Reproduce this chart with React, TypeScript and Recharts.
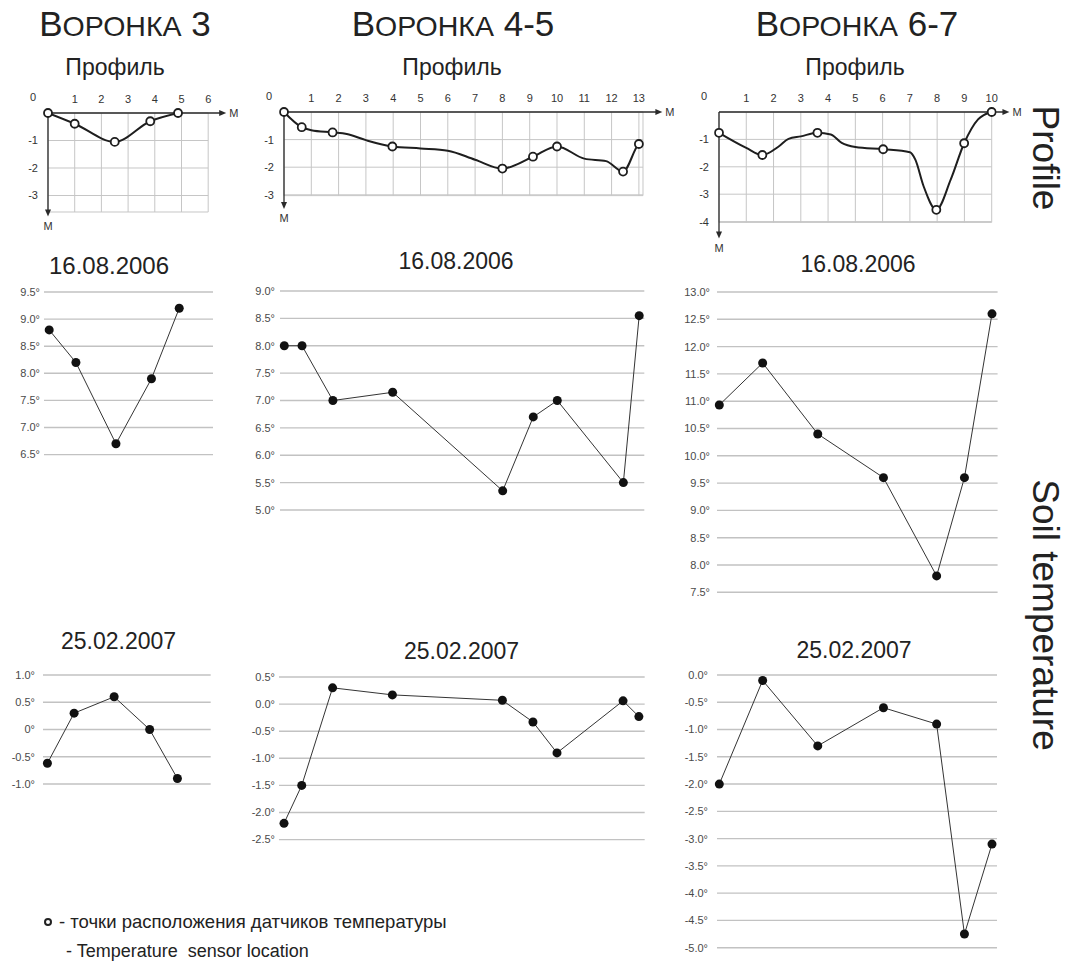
import React from 'react';
import { ComposedChart, LineChart, Line, XAxis, YAxis, CartesianGrid, ReferenceLine } from 'recharts';

const FONT = '"Liberation Sans", Arial, Helvetica, sans-serif';

// ---------- Воронка 3 ----------
const f3SensorDist = [0, 1.0, 2.5, 3.83, 4.87];
const f3SensorDepth = [0, -0.39, -1.05, -0.3, 0];
const f3SurfDist = [0, 1.0, 2.5, 3.83, 4.87];
const f3SurfDepth = [0, -0.39, -1.05, -0.3, 0];
const f3TempSummer = [8.8, 8.2, 6.7, 7.9, 9.2];
const f3TempWinter = [-0.62, 0.3, 0.6, 0.0, -0.9];

// ---------- Воронка 4-5 ----------
const f45SensorDist = [0, 0.65, 1.78, 3.97, 8.0, 9.12, 10.0, 12.42, 13.0];
const f45SensorDepth = [0, -0.55, -0.74, -1.25, -2.05, -1.62, -1.25, -2.16, -1.16];
const f45SurfDist = [0, 0.65, 1.0, 1.78, 2.3, 3.0, 3.97, 5.0, 6.0, 7.0, 8.0, 9.12, 10.0, 11.0, 11.8, 12.42, 13.0, 13.15];
const f45SurfDepth = [0, -0.55, -0.66, -0.74, -0.8, -1.02, -1.25, -1.32, -1.4, -1.73, -2.05, -1.62, -1.25, -1.69, -1.78, -2.16, -1.16, -1.08];
const f45TempSummer = [8.0, 8.0, 7.0, 7.15, 5.35, 6.7, 7.0, 5.5, 8.55];
const f45TempWinter = [-2.2, -1.5, 0.3, 0.17, 0.07, -0.33, -0.9, 0.06, -0.23];

// ---------- Воронка 6-7 ----------
const f67SensorDist = [0, 1.59, 3.61, 6.02, 7.97, 8.99, 10];
const f67SensorDepth = [-0.76, -1.57, -0.76, -1.36, -3.57, -1.14, 0];
const f67SurfDist = [0, 1.0, 1.59, 2.2, 2.55, 3.0, 3.61, 4.1, 4.5, 5.0, 6.02, 7.0, 7.2, 7.5, 7.97, 8.5, 8.99, 9.5, 10];
const f67SurfDepth = [-0.76, -1.31, -1.57, -1.25, -0.98, -0.89, -0.76, -0.82, -1.13, -1.28, -1.36, -1.47, -1.74, -2.7, -3.57, -2.46, -1.14, -0.27, 0];
const f67TempSummer = [10.93, 11.7, 10.4, 9.6, 7.8, 9.6, 12.6];
const f67TempWinter = [-2.0, -0.1, -1.3, -0.6, -0.9, -4.75, -3.1];

// ---------- Profile axis ticks ----------
const p3XTicks = [0, 1, 2, 3, 4, 5, 6];
const p3YTicks = [-1, -2, -3];
const p45XTicks = [0, 1, 2, 3, 4, 5, 6, 7, 8, 9, 10, 11, 12, 13];
const p45YTicks = [-1, -2, -3];
const p67XTicks = [0, 1, 2, 3, 4, 5, 6, 7, 8, 9, 10];
const p67YTicks = [-1, -2, -3, -4];

// ---------- Temperature axis ticks ----------
const t3SummerTicks = [6.5, 7, 7.5, 8, 8.5, 9, 9.5];
const t3SummerLabels = ['6.5°', '7.0°', '7.5°', '8.0°', '8.5°', '9.0°', '9.5°'];
const t45SummerTicks = [5, 5.5, 6, 6.5, 7, 7.5, 8, 8.5, 9];
const t45SummerLabels = ['5.0°', '5.5°', '6.0°', '6.5°', '7.0°', '7.5°', '8.0°', '8.5°', '9.0°'];
const t67SummerTicks = [7.5, 8, 8.5, 9, 9.5, 10, 10.5, 11, 11.5, 12, 12.5, 13];
const t67SummerLabels = ['7.5°', '8.0°', '8.5°', '9.0°', '9.5°', '10.0°', '10.5°', '11.0°', '11.5°', '12.0°', '12.5°', '13.0°'];
const t3WinterTicks = [-1, -0.5, 0, 0.5, 1];
const t3WinterLabels = ['-1.0°', '-0.5°', '0°', '0.5°', '1.0°'];
const t45WinterTicks = [-2.5, -2, -1.5, -1, -0.5, 0, 0.5];
const t45WinterLabels = ['-2.5°', '-2.0°', '-1.5°', '-1.0°', '-0.5°', '0.0°', '0.5°'];
const t67WinterTicks = [-5, -4.5, -4, -3.5, -3, -2.5, -2, -1.5, -1, -0.5, 0];
const t67WinterLabels = ['-5.0°', '-4.5°', '-4.0°', '-3.5°', '-3.0°', '-2.5°', '-2.0°', '-1.5°', '-1.0°', '-0.5°', '0.0°'];

const INK = '#1e1e1e';

const ProfXTick = (props: any) => {
  const { x, y, payload } = props;
  const v = payload.value;
  return (
    <text x={v === 0 ? x - 15 : x} y={v === 0 ? y - 2 : y} textAnchor="middle" fontSize={11} fill="#333" fontFamily={FONT}>
      {v}
    </text>
  );
};

const hArrow = (p: any) => (
  <g>
    <line x1={p.x1} y1={p.y1} x2={p.x2} y2={p.y2} stroke="#2a2a2a" strokeWidth={1.3} />
    <polygon points={`${p.x2 + 6},${p.y2} ${p.x2 - 1},${p.y2 - 3} ${p.x2 - 1},${p.y2 + 3}`} fill="#2a2a2a" />
    <text x={p.x2 + 9} y={p.y2 + 4} fontSize={11} fill="#333" fontFamily={FONT}>М</text>
  </g>
);

const vArrow = (p: any) => (
  <g>
    <line x1={p.x1} y1={p.y1} x2={p.x2} y2={p.y2} stroke="#2a2a2a" strokeWidth={1.3} />
    <polygon points={`${p.x2},${p.y2 + 6} ${p.x2 - 3},${p.y2 - 1} ${p.x2 + 3},${p.y2 - 1}`} fill="#2a2a2a" />
    <text x={p.x2} y={p.y2 + 19} textAnchor="middle" fontSize={11} fill="#333" fontFamily={FONT}>М</text>
  </g>
);

type ProfileCfg = { originX: number; originY: number; pxX: number; pxY: number; xMax: number; yMin: number; arrowX: number; arrowY: number };

function ProfileChart(props: { cfg: ProfileCfg; surfX: number[]; surfD: number[]; sensX: number[]; sensD: number[]; xTicks: number[]; yTicks: number[] }) {
  const { cfg, surfX, surfD, sensX, sensD, xTicks, yTicks } = props;
  const yW = 40, xH = 20, mt = 4, mr = 40, mb = 40;
  const plotW = cfg.xMax * cfg.pxX;
  const plotH = -cfg.yMin * cfg.pxY;
  const width = yW + plotW + mr;
  const height = mt + xH + plotH + mb;
  const surface = surfX.map((x, i) => ({ x, d: surfD[i] }));
  const sensors = sensX.map((x, i) => ({ x, d: sensD[i] }));
  return (
    <div style={{ position: 'absolute', left: cfg.originX - yW, top: cfg.originY - xH - mt }}>
      <ComposedChart width={width} height={height} margin={{ top: mt, right: mr, bottom: mb, left: 0 }}>
        <CartesianGrid stroke="#c6c6c6" strokeWidth={1} />
        <XAxis type="number" dataKey="x" orientation="top" domain={[0, cfg.xMax]} ticks={xTicks} interval={0} height={xH}
          axisLine={false} tickLine={false} tickSize={0} tickMargin={10} tick={(tp: any) => <ProfXTick {...tp} />} allowDataOverflow />
        <YAxis type="number" dataKey="d" domain={[cfg.yMin, 0]} ticks={yTicks} interval={0} width={yW}
          axisLine={false} tickLine={false} tickSize={0} tickMargin={10} tick={{ fontSize: 11, fill: '#333', fontFamily: FONT }} allowDataOverflow />
        <ReferenceLine segment={[{ x: 0, y: 0 }, { x: cfg.arrowX, y: 0 }]} ifOverflow="visible" shape={hArrow} />
        <ReferenceLine segment={[{ x: 0, y: 0 }, { x: 0, y: cfg.arrowY }]} ifOverflow="visible" shape={vArrow} />
        <Line data={surface} dataKey="d" type="monotone" stroke={INK} strokeWidth={2} dot={false} isAnimationActive={false} />
        <Line data={sensors} dataKey="d" type="linear" stroke="none" dot={{ r: 4, fill: '#fff', stroke: INK, strokeWidth: 1.8, clipDot: false } as any} isAnimationActive={false} />
      </ComposedChart>
    </div>
  );
}

type TempCfg = { left: number; right: number; top: number; bottom: number; originX: number; pxPerM: number; yDomain: [number, number]; gap: number };

function TempChart(props: { cfg: TempCfg; xs: number[]; temps: number[]; ticks: number[]; labels: string[] }) {
  const { cfg, xs, temps, ticks, labels } = props;
  const yW = 50, mt = 10, mb = 10, mr = 12;
  const width = cfg.right - cfg.left + yW + mr;
  const height = cfg.bottom - cfg.top + mt + mb;
  const xMin = (cfg.left - cfg.originX) / cfg.pxPerM;
  const xMax = (cfg.right - cfg.originX) / cfg.pxPerM;
  const data = xs.map((x, i) => ({ x, t: temps[i] }));
  const fmt = (v: number) => {
    const i = ticks.findIndex((t) => Math.abs(t - v) < 1e-6);
    return i >= 0 ? labels[i] : String(v);
  };
  return (
    <div style={{ position: 'absolute', left: cfg.left - yW, top: cfg.top - mt }}>
      <LineChart width={width} height={height} data={data} margin={{ top: mt, right: mr, bottom: mb, left: 0 }}>
        <CartesianGrid vertical={false} stroke="#c2c2c2" strokeWidth={1.4} />
        <XAxis type="number" dataKey="x" domain={[xMin, xMax]} hide allowDataOverflow />
        <YAxis type="number" domain={cfg.yDomain} ticks={ticks} interval={0} width={yW} tickFormatter={fmt}
          axisLine={false} tickLine={false} tickSize={0} tickMargin={cfg.gap} tick={{ fontSize: 11, fill: '#4a4a4a', fontFamily: FONT }} allowDataOverflow />
        <Line dataKey="t" type="linear" stroke="#333" strokeWidth={1} dot={{ r: 4.5, fill: '#111', stroke: '#111', strokeWidth: 0, clipDot: false } as any} isAnimationActive={false} />
      </LineChart>
    </div>
  );
}

const P3: ProfileCfg = { originX: 47.7, originY: 112.7, pxX: 26.7, pxY: 27.5, xMax: 6, yMin: -3.6, arrowX: 6.45, arrowY: -3.55 };
const P45: ProfileCfg = { originX: 284.3, originY: 111.7, pxX: 27.3, pxY: 27.6, xMax: 13.15, yMin: -3.03, arrowX: 13.64, arrowY: -3.3 };
const P67: ProfileCfg = { originX: 719, originY: 112.3, pxX: 27.27, pxY: 27.4, xMax: 10, yMin: -4.03, arrowX: 10.43, arrowY: -4.4 };

const T3S: TempCfg = { left: 44.3, right: 213.3, top: 291.7, bottom: 454.3, originX: 49.5, pxPerM: 26.7, yDomain: [6.5, 9.5], gap: 4 };
const T45S: TempCfg = { left: 280, right: 644.3, top: 291, bottom: 510, originX: 284.3, pxPerM: 27.3, yDomain: [5, 9], gap: 5 };
const T67S: TempCfg = { left: 716.7, right: 997.3, top: 291.7, bottom: 592, originX: 719, pxPerM: 27.27, yDomain: [7.5, 13], gap: 7 };
const T3W: TempCfg = { left: 43.3, right: 211, top: 675, bottom: 784, originX: 47.7, pxPerM: 26.7, yDomain: [-1, 1], gap: 8 };
const T45W: TempCfg = { left: 279.3, right: 645, top: 676.7, bottom: 839.3, originX: 284.3, pxPerM: 27.3, yDomain: [-2.5, 0.5], gap: 4 };
const T67W: TempCfg = { left: 716.7, right: 996.7, top: 675, bottom: 947.7, originX: 719, pxPerM: 27.27, yDomain: [-5, 0], gap: 9 };

const Title = ({ x, num }: { x: number; num: string }) => (
  <text x={x} y={36} textAnchor="middle" fontFamily={FONT} fill="#222">
    <tspan fontSize={35}>В</tspan>
    <tspan fontSize={28.5}>ОРОНКА</tspan>
    <tspan fontSize={35}>{' ' + num}</tspan>
  </text>
);

export default function App() {
  return (
    <div style={{ position: 'absolute', left: 0, top: 0, width: 1075, height: 961, background: '#fff', overflow: 'hidden', fontFamily: FONT }}>
      <svg width={1075} height={961} style={{ position: 'absolute', left: 0, top: 0 }}>
        <Title x={125} num="3" />
        <Title x={453} num="4-5" />
        <Title x={857} num="6-7" />
        <g fontFamily={FONT} fill="#222" textAnchor="middle">
          <text x={115} y={75} fontSize={23}>Профиль</text>
          <text x={452} y={75} fontSize={23}>Профиль</text>
          <text x={855} y={75} fontSize={23}>Профиль</text>
          <text x={109} y={274} fontSize={24}>16.08.2006</text>
          <text x={456} y={269} fontSize={23}>16.08.2006</text>
          <text x={858} y={272} fontSize={23}>16.08.2006</text>
          <text x={118.5} y={649} fontSize={23}>25.02.2007</text>
          <text x={461.5} y={659} fontSize={23}>25.02.2007</text>
          <text x={854} y={658} fontSize={23}>25.02.2007</text>
        </g>
        <text transform="translate(1045,158) rotate(90)" textAnchor="middle" dominantBaseline="central" fontFamily={FONT} fontSize={37} fill="#222">Profile</text>
        <text transform="translate(1045,615) rotate(90)" textAnchor="middle" dominantBaseline="central" fontFamily={FONT} fontSize={37} fill="#222">Soil temperature</text>
        <circle cx={48} cy={922} r={3} fill="#fff" stroke="#222" strokeWidth={2} />
        <text x={59} y={928} fontFamily={FONT} fontSize={18.5} fill="#222">- точки расположения датчиков температуры</text>
        <text x={66} y={957} fontFamily={FONT} fontSize={18} fill="#222" style={{ whiteSpace: 'pre' }}>{'- Temperature  sensor location'}</text>
      </svg>

      <ProfileChart cfg={P3} surfX={f3SurfDist} surfD={f3SurfDepth} sensX={f3SensorDist} sensD={f3SensorDepth} xTicks={p3XTicks} yTicks={p3YTicks} />
      <ProfileChart cfg={P45} surfX={f45SurfDist} surfD={f45SurfDepth} sensX={f45SensorDist} sensD={f45SensorDepth} xTicks={p45XTicks} yTicks={p45YTicks} />
      <ProfileChart cfg={P67} surfX={f67SurfDist} surfD={f67SurfDepth} sensX={f67SensorDist} sensD={f67SensorDepth} xTicks={p67XTicks} yTicks={p67YTicks} />

      <TempChart cfg={T3S} xs={f3SensorDist} temps={f3TempSummer} ticks={t3SummerTicks} labels={t3SummerLabels} />
      <TempChart cfg={T45S} xs={f45SensorDist} temps={f45TempSummer} ticks={t45SummerTicks} labels={t45SummerLabels} />
      <TempChart cfg={T67S} xs={f67SensorDist} temps={f67TempSummer} ticks={t67SummerTicks} labels={t67SummerLabels} />
      <TempChart cfg={T3W} xs={f3SensorDist} temps={f3TempWinter} ticks={t3WinterTicks} labels={t3WinterLabels} />
      <TempChart cfg={T45W} xs={f45SensorDist} temps={f45TempWinter} ticks={t45WinterTicks} labels={t45WinterLabels} />
      <TempChart cfg={T67W} xs={f67SensorDist} temps={f67TempWinter} ticks={t67WinterTicks} labels={t67WinterLabels} />
    </div>
  );
}
